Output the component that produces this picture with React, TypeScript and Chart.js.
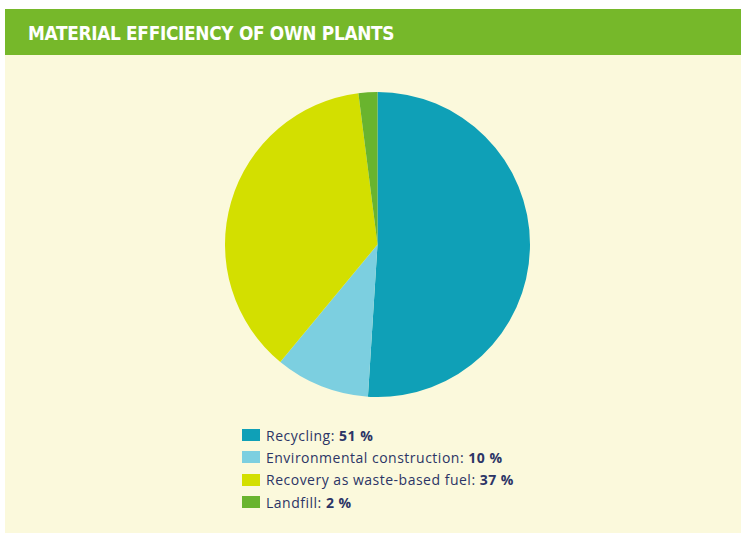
import React, { useEffect, useRef } from "react";
import { Chart, registerables } from "chart.js";

Chart.register(...registerables);

const categories = [
  "Recycling",
  "Environmental construction",
  "Recovery as waste-based fuel",
  "Landfill",
];
const shares = [51, 10, 37, 2];
const colors = ["#0fa0b7", "#7ccfe0", "#d3df00", "#69b42e"];
const title = "MATERIAL EFFICIENCY OF OWN PLANTS";

export default function App() {
  const ref = useRef<HTMLCanvasElement | null>(null);

  useEffect(() => {
    document.body.style.margin = "0";
    const chart = new Chart(ref.current!, {
      type: "pie",
      data: {
        labels: categories,
        datasets: [
          {
            data: shares,
            backgroundColor: colors,
            borderWidth: 0,
          },
        ],
      },
      options: {
        animation: false,
        responsive: false,
        maintainAspectRatio: false,
        layout: { padding: 0 },
        plugins: {
          legend: { display: false },
          tooltip: { enabled: false },
        },
      },
    });
    return () => chart.destroy();
  }, []);

  return (
    <div style={{ position: "relative", width: 741, height: 533, background: "#ffffff", overflow: "hidden" }}>
      <div
        style={{
          position: "absolute",
          left: 5,
          top: 9,
          width: 736,
          height: 46,
          background: "#76b82a",
        }}
      >
        <div
          style={{
            position: "absolute",
            left: 23,
            top: 12,
            color: "#ffffff",
            fontFamily: "'DejaVu Sans Condensed', 'DejaVu Sans', sans-serif",
            fontWeight: "bold",
            fontSize: 20,
            lineHeight: "24px",
            letterSpacing: -0.3,
            whiteSpace: "nowrap",
            transform: "scaleX(0.94)",
            transformOrigin: "left center",
          }}
        >
          {title}
        </div>
      </div>
      <div
        style={{
          position: "absolute",
          left: 5,
          top: 55,
          width: 736,
          height: 478,
          background: "#fbf9dc",
        }}
      />
      <canvas
        ref={ref}
        width={305}
        height={305}
        style={{ position: "absolute", left: 225, top: 92, width: 305, height: 305 }}
      />
      <div style={{ position: "absolute", left: 242, top: 424 }}>
        {categories.map((c, i) => (
          <div
            key={c}
            style={{
              display: "flex",
              alignItems: "center",
              height: 22.3,
              fontFamily: "'Open Sans', sans-serif",
              fontSize: 14,
              letterSpacing: 0.5,
              color: "#2c3566",
              whiteSpace: "nowrap",
            }}
          >
            <span
              style={{
                display: "inline-block",
                width: 18,
                height: 12,
                background: colors[i],
                marginRight: 6,
              }}
            />
            <span>
              {c}: <b>{shares[i]} %</b>
            </span>
          </div>
        ))}
      </div>
    </div>
  );
}
